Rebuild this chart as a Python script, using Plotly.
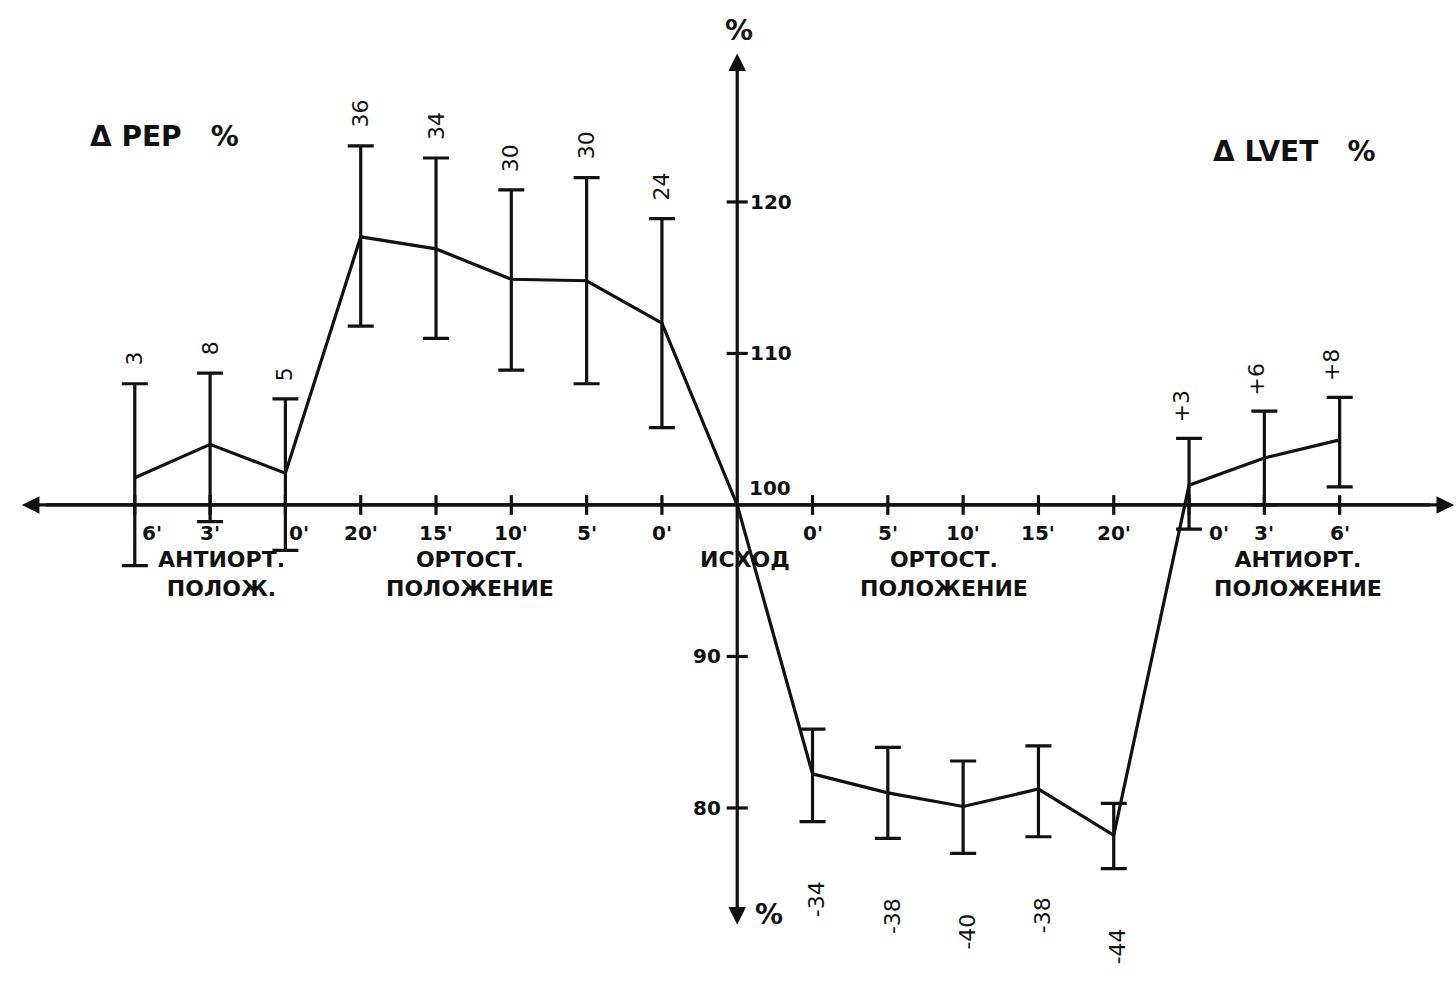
import plotly.graph_objects as go

# ---------------- data ----------------
# left half: PEP (pre-ejection period), right half: LVET
pep_ticks = ["6'", "3'", "0'", "20'", "15'", "10'", "5'", "0'"]
pep_mean = [101.8, 104.0, 102.1, 117.7, 116.9, 114.9, 114.8, 112.0]
pep_upper = [108.0, 108.7, 107.0, 123.7, 122.9, 120.8, 121.6, 118.9]
pep_lower = [96.0, 98.9, 97.0, 111.8, 111.0, 108.9, 108.0, 105.1]
pep_delta = ["3", "8", "5", "36", "34", "30", "30", "24"]

lvet_ticks = ["0'", "5'", "10'", "15'", "20'", "0'", "3'", "6'"]
lvet_mean = [82.25, 81.0, 80.1, 81.25, 78.2, 101.3, 103.1, 104.3]
lvet_upper = [85.2, 84.0, 83.1, 84.1, 80.3, 104.4, 106.2, 107.1]
lvet_lower = [79.1, 78.0, 77.0, 78.1, 76.0, 98.4, 100.0, 101.2]
lvet_delta = ["-34", "-38", "-40", "-38", "-44", "+3", "+6", "+8"]

origin_value = 100
y_ticks = [120, 110, 100, 90, 80]

# x positions: steps from the origin (left negative, right positive)
pep_x = list(range(-len(pep_mean), 0))
lvet_x = list(range(1, len(lvet_mean) + 1))

FONT = "DejaVu Sans"
BLACK = "#111111"
LW = 3.2

fig = go.Figure()

# main polyline through the origin
fig.add_trace(go.Scatter(
    x=pep_x + [0] + lvet_x,
    y=pep_mean + [origin_value] + lvet_mean,
    mode="lines",
    line=dict(color=BLACK, width=LW),
    hoverinfo="skip", showlegend=False,
))

# error bars
for xs, m, up, lo in [(pep_x, pep_mean, pep_upper, pep_lower),
                      (lvet_x, lvet_mean, lvet_upper, lvet_lower)]:
    fig.add_trace(go.Scatter(
        x=xs, y=m, mode="markers",
        marker=dict(size=1, color="rgba(0,0,0,0)"),
        error_y=dict(type="data", symmetric=False,
                     array=[u - v for u, v in zip(up, m)],
                     arrayminus=[v - l for v, l in zip(m, lo)],
                     color=BLACK, thickness=LW, width=13),
        hoverinfo="skip", showlegend=False,
    ))

shapes = []
annotations = []

# horizontal axis with arrows at both ends
X_L, X_R = -9.5, 9.52
Y_T, Y_B = 129.8, 72.3
arrow = dict(xref="x", yref="y", axref="x", ayref="y", text="", showarrow=True,
             arrowhead=2, arrowsize=1.1, arrowwidth=LW, arrowcolor=BLACK)
annotations.append(dict(x=X_R, y=origin_value, ax=X_L + 0.3, ay=origin_value, **arrow))
annotations.append(dict(x=X_L, y=origin_value, ax=X_R - 0.3, ay=origin_value, **arrow))
# vertical axis with arrows at both ends
annotations.append(dict(x=0, y=Y_T, ax=0, ay=origin_value, **arrow))
annotations.append(dict(x=0, y=Y_B, ax=0, ay=origin_value, **arrow))

tick_font = dict(family=FONT, size=20, color=BLACK, weight="bold")

# x tick marks and labels
for xv, lab in list(zip(pep_x, pep_ticks)) + list(zip(lvet_x, lvet_ticks)):
    shapes.append(dict(type="line", xref="x", yref="y", x0=xv, x1=xv,
                       y0=origin_value - 0.65, y1=origin_value + 0.65,
                       line=dict(color=BLACK, width=LW)))
    shift = 0
    if xv == pep_x[0]:
        shift = 17
    if xv == pep_x[2]:
        shift = 14
    if xv == lvet_x[5]:
        shift = 30
    annotations.append(dict(x=xv, y=origin_value, xref="x", yref="y", text=lab,
                            showarrow=False, yanchor="top", yshift=-14, xshift=shift,
                            font=tick_font))

# y tick marks and labels
for yv in y_ticks:
    if yv != origin_value:
        shapes.append(dict(type="line", xref="x", yref="y", x0=-0.14, x1=0.14,
                           y0=yv, y1=yv, line=dict(color=BLACK, width=LW)))
    if yv > origin_value:
        annotations.append(dict(x=0, y=yv, xref="x", yref="y", text=str(yv),
                                showarrow=False, xanchor="left", xshift=11,
                                font=tick_font))
    elif yv == origin_value:
        annotations.append(dict(x=0, y=yv, xref="x", yref="y", text=str(yv),
                                showarrow=False, xanchor="left", yanchor="bottom",
                                xshift=10, yshift=3, font=tick_font))
    else:
        annotations.append(dict(x=0, y=yv, xref="x", yref="y", text=str(yv),
                                showarrow=False, xanchor="right", xshift=-14,
                                font=tick_font))

# handwritten delta numbers (rotated)
hand = dict(family="DejaVu Sans", size=22, color=BLACK)
for xv, up, t in zip(pep_x, pep_upper, pep_delta):
    annotations.append(dict(x=xv, y=up, xref="x", yref="y", text=t, textangle=-90,
                            showarrow=False, yanchor="bottom", yshift=16, font=hand))
for xv, up, lo, t in zip(lvet_x, lvet_upper, lvet_lower, lvet_delta):
    if t.startswith("+"):
        annotations.append(dict(x=xv, y=up, xref="x", yref="y", text=t, textangle=-90,
                                showarrow=False, yanchor="bottom", yshift=14,
                                xshift=-8, font=hand))
    else:
        annotations.append(dict(x=xv, y=lo, xref="x", yref="y", text=t, textangle=-90,
                                showarrow=False, yanchor="top", yshift=-58,
                                xshift=4, font=hand))

# group labels
lab_font = dict(family=FONT, size=22, color=BLACK, weight="bold")
groups = [
    dict(x=-6.85, y=96.3, text="АНТИОРТ.<br>ПОЛОЖ.", align="center"),
    dict(x=-3.55, y=96.3, text="ОРТОСТ.<br>ПОЛОЖЕНИЕ", align="center"),
    dict(x=0.1, y=96.3, text="ИСХОД", align="center"),
    dict(x=2.75, y=96.3, text="ОРТОСТ.<br>ПОЛОЖЕНИЕ", align="center"),
    dict(x=7.45, y=96.3, text="АНТИОРТ.<br>ПОЛОЖЕНИЕ", align="center"),
]
for a in groups:
    a.update(xref="x", yref="y", showarrow=False, yanchor="top", yshift=16,
             font=lab_font)
annotations += groups

# titles
big = dict(family=FONT, size=28, color=BLACK, weight="bold")
annotations += [
    dict(x=-7.6, y=124.3, xref="x", yref="y", text="Δ PEP   %", showarrow=False, font=big),
    dict(x=7.4, y=123.3, xref="x", yref="y", text="Δ LVET   %", showarrow=False, font=big),
    dict(x=0.03, y=131.3, xref="x", yref="y", text="%", showarrow=False, font=big),
    dict(x=0.42, y=73.0, xref="x", yref="y", text="%", showarrow=False, font=big),
]

fig.update_layout(
    width=1456, height=986,
    margin=dict(l=0, r=0, t=0, b=0),
    paper_bgcolor="white", plot_bgcolor="white",
    xaxis=dict(range=[-9.79, 9.545], visible=False, fixedrange=True),
    yaxis=dict(range=[68.25, 133.33], visible=False, fixedrange=True),
    shapes=shapes, annotations=annotations,
    showlegend=False,
)

fig.write_html("out.html", config={"displayModeBar": False},
               post_script="document.body.style.margin='0';document.body.style.overflow='hidden';")
